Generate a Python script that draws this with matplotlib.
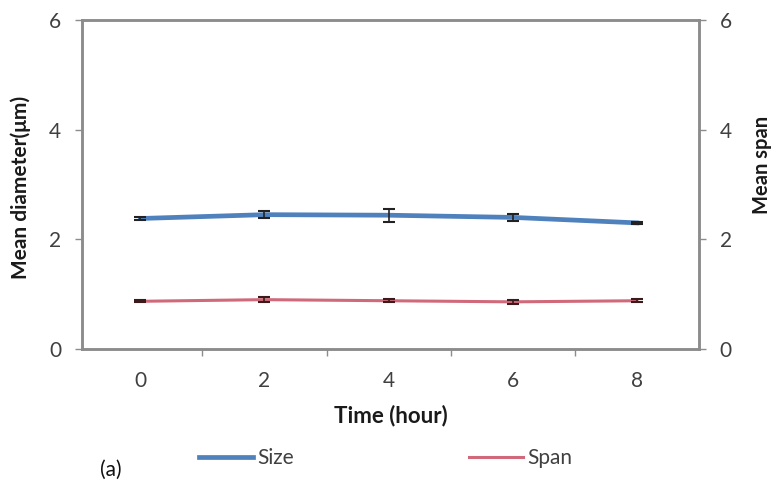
import matplotlib.pyplot as plt
import numpy as np

hours = ['0', '2', '4', '6', '8']
size_mean = [2.38, 2.45, 2.44, 2.40, 2.30]
size_err = [0.02, 0.07, 0.12, 0.07, 0.02]
span_mean = [0.87, 0.90, 0.88, 0.86, 0.88]
span_err = [0.02, 0.04, 0.03, 0.04, 0.03]

plt.rcParams['font.family'] = ['Lato', 'DejaVu Sans']

x = np.arange(len(hours))
grey = '#8c8c8c'
txt = '#404040'

fig = plt.figure(figsize=(7.71, 4.88), dpi=100)
ax = fig.add_axes([82 / 771, 1 - 349 / 488, (699 - 82) / 771, (349 - 20) / 488])
ax2 = ax.twinx()

ax.plot(x, size_mean, color='#4F81BD', linewidth=3.4, label='Size', zorder=2)
ax.errorbar(x, size_mean, yerr=size_err, fmt='none', ecolor='#222222',
            elinewidth=1.2, capsize=4, capthick=1.5, zorder=3)
ax2.plot(x, span_mean, color='#D0697A', linewidth=2.2, label='Span', zorder=2)
ax2.errorbar(x, span_mean, yerr=span_err, fmt='none', ecolor='#3a1a1a',
             elinewidth=1.2, capsize=4, capthick=1.5, zorder=3)

for a in (ax, ax2):
    a.set_ylim(0, 6)
    a.set_yticks([0, 2, 4, 6])
    a.set_xlim(-0.47, 4.5)
    for s in a.spines.values():
        s.set_color(grey)
        s.set_linewidth(1.8)
    a.tick_params(axis='y', colors=grey, labelcolor=txt, labelsize=15,
                  length=5, width=1, pad=10)

ax.set_xticks(x)
ax.set_xticklabels(hours)
ax.set_xticks(x[:-1] + 0.5, minor=True)
ax.tick_params(axis='x', which='major', length=0, labelsize=15,
               labelcolor=txt, pad=16)
ax.tick_params(axis='x', which='minor', length=5, width=1, colors=grey)

ax.set_ylabel('Mean diameter(μm)', fontsize=15, fontweight='bold',
              color='#1a1a1a')
ax.yaxis.set_label_coords(-0.082, 0.49)
ax2.set_ylabel('Mean span', fontsize=14.5, fontweight='bold', color='#1a1a1a')
ax2.yaxis.set_label_coords(1.086, 0.56)
ax.set_xlabel('Time (hour)', fontsize=16, fontweight='bold', color='#1a1a1a',
              labelpad=10)

h1, l1 = ax.get_legend_handles_labels()
h2, l2 = ax2.get_legend_handles_labels()
fig.legend(h1 + h2, l1 + l2, loc='center', bbox_to_anchor=(0.5, 0.061),
           ncol=2, frameon=False, fontsize=15, handlelength=2.6,
           handletextpad=0.2, columnspacing=8.4, labelcolor=txt)

fig.text(100 / 771, 1 - 470 / 488, '(a)', fontsize=15, va='center',
         ha='left', color='#111111')

fig.savefig('out.png', dpi=100)
